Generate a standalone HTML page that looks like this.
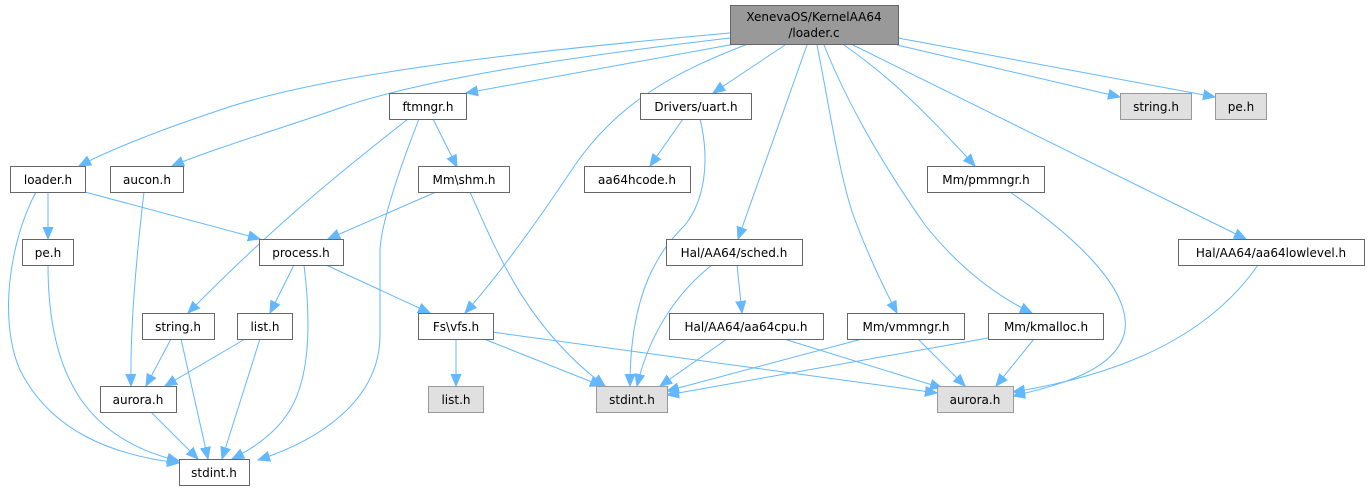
<!DOCTYPE html>
<html><head><meta charset="utf-8"><style>
html,body{margin:0;padding:0;background:#fff;}
svg{display:block;}
text{font-family:"DejaVu Sans","Liberation Sans",sans-serif;font-size:12px;fill:#000;}
.b{fill:#fff;stroke:#666;stroke-width:1;}
.g{fill:#e0e0e0;stroke:#999;stroke-width:1;}
.e{fill:none;stroke:#63b8ff;stroke-width:1;marker-end:url(#a);}
</style></head><body>
<svg width="1370" height="491" viewBox="0 0 1370 491" xmlns="http://www.w3.org/2000/svg">
<defs><marker id="a" markerUnits="userSpaceOnUse" markerWidth="13" markerHeight="12" refX="12" refY="6" orient="auto"><path d="M0,1 L12,6 L0,11 z" fill="#63b8ff" stroke="#63b8ff"/></marker></defs>

<path class="e" d="M730,33 C540,50 330,72 220,110 C160,130 110,150 79,166"/>
<path class="e" d="M730,38 C560,58 420,80 340,108 C270,132 210,150 172,166"/>
<path class="e" d="M735,44 L466,93"/>
<path class="e" d="M748,44 C680,70 620,100 575,165 C525,240 490,285 465,313"/>
<path class="e" d="M785,45 L713,93"/>
<path class="e" d="M807,45 L738,239"/>
<path class="e" d="M817,45 C830,110 840,180 855,220 C870,260 885,290 897,313"/>
<path class="e" d="M824,45 C850,110 890,175 925,225 C965,275 1005,300 1032,313"/>
<path class="e" d="M844,45 C880,70 915,100 975,166"/>
<path class="e" d="M853,45 L1246,239"/>
<path class="e" d="M897,45 L1120,97"/>
<path class="e" d="M898,38 L1215,97"/>

<path class="e" d="M433,119 L457,167"/>
<path class="e" d="M408,119 C330,180 270,230 188,313"/>
<path class="e" d="M419,119 C395,180 380,230 380,252 L380,335 C380,400 320,440 258,460"/>

<path class="e" d="M683,119 L650,166"/>
<path class="e" d="M700,119 C710,160 705,200 685,225 C660,250 630,290 630,386"/>

<path class="e" d="M48,192 L48,239"/>
<path class="e" d="M85,192 L260,239"/>
<path class="e" d="M36,192 C10,240 -2,320 20,370 C50,430 110,455 179,463"/>

<path class="e" d="M144,192 C136,260 130,330 131,386"/>

<path class="e" d="M436,192 L328,239"/>
<path class="e" d="M470,192 C500,260 530,330 605,386"/>

<path class="e" d="M48,265 C48,380 90,440 179,461"/>

<path class="e" d="M294,265 L270,313"/>
<path class="e" d="M326,265 L430,313"/>
<path class="e" d="M304,265 C312,330 308,380 290,410 C275,435 250,450 232,459"/>

<path class="e" d="M171,339 L146,386"/>
<path class="e" d="M181,339 L208,459"/>
<path class="e" d="M245,339 L165,386"/>
<path class="e" d="M260,339 L222,459"/>
<path class="e" d="M151,412 L198,459"/>

<path class="e" d="M456,339 L456,386"/>
<path class="e" d="M484,339 L602,386"/>
<path class="e" d="M492,332 L937,393"/>

<path class="e" d="M712,265 C680,290 650,330 637,386"/>
<path class="e" d="M737,265 L742,313"/>
<path class="e" d="M727,339 L660,386"/>
<path class="e" d="M784,339 L942,388"/>
<path class="e" d="M862,339 L667,391"/>
<path class="e" d="M918,339 L965,386"/>
<path class="e" d="M988,338 L667,395"/>
<path class="e" d="M1034,339 L996,386"/>
<path class="e" d="M1010,192 C1080,240 1130,290 1125,330 C1118,370 1060,385 1013,396"/>
<path class="e" d="M1258,265 C1220,320 1150,370 1013,392"/>

<rect x="730.5" y="5.5" width="168" height="39" fill="#999" stroke="#666"/>
<text x="814" y="21" text-anchor="middle">XenevaOS/KernelAA64</text>
<text x="814" y="37" text-anchor="middle">/loader.c</text>

<rect class="b" x="389.5" y="93.5" width="77" height="26"/><text x="428" y="111" text-anchor="middle">ftmngr.h</text>
<rect class="b" x="640.5" y="93.5" width="111" height="26"/><text x="696" y="111" text-anchor="middle">Drivers/uart.h</text>
<rect class="g" x="1120.5" y="93.5" width="71" height="26"/><text x="1156" y="111" text-anchor="middle">string.h</text>
<rect class="g" x="1215.5" y="93.5" width="51" height="26"/><text x="1241" y="111" text-anchor="middle">pe.h</text>

<rect class="b" x="10.5" y="166.5" width="75" height="26"/><text x="48" y="184" text-anchor="middle">loader.h</text>
<rect class="b" x="110.5" y="166.5" width="73" height="26"/><text x="147" y="184" text-anchor="middle">aucon.h</text>
<rect class="b" x="418.5" y="166.5" width="91" height="26"/><text x="464" y="184" text-anchor="middle">Mm\shm.h</text>
<rect class="b" x="584.5" y="166.5" width="106" height="26"/><text x="637" y="184" text-anchor="middle">aa64hcode.h</text>
<rect class="b" x="927.5" y="166.5" width="117" height="26"/><text x="986" y="184" text-anchor="middle">Mm/pmmngr.h</text>

<rect class="b" x="22.5" y="239.5" width="51" height="26"/><text x="48" y="257" text-anchor="middle">pe.h</text>
<rect class="b" x="259.5" y="239.5" width="84" height="26"/><text x="301" y="257" text-anchor="middle">process.h</text>
<rect class="b" x="666.5" y="239.5" width="136" height="26"/><text x="734" y="257" text-anchor="middle">Hal/AA64/sched.h</text>
<rect class="b" x="1178.5" y="239.5" width="186" height="26"/><text x="1271" y="257" text-anchor="middle">Hal/AA64/aa64lowlevel.h</text>

<rect class="b" x="142.5" y="313.5" width="72" height="26"/><text x="178" y="331" text-anchor="middle">string.h</text>
<rect class="b" x="237.5" y="313.5" width="55" height="26"/><text x="265" y="331" text-anchor="middle">list.h</text>
<rect class="b" x="418.5" y="313.5" width="75" height="26"/><text x="456" y="331" text-anchor="middle">Fs\vfs.h</text>
<rect class="b" x="669.5" y="313.5" width="154" height="26"/><text x="746" y="331" text-anchor="middle">Hal/AA64/aa64cpu.h</text>
<rect class="b" x="847.5" y="313.5" width="117" height="26"/><text x="906" y="331" text-anchor="middle">Mm/vmmngr.h</text>
<rect class="b" x="988.5" y="313.5" width="115" height="26"/><text x="1046" y="331" text-anchor="middle">Mm/kmalloc.h</text>

<rect class="b" x="100.5" y="386.5" width="76" height="26"/><text x="138" y="404" text-anchor="middle">aurora.h</text>
<rect class="g" x="428.5" y="386.5" width="55" height="26"/><text x="456" y="404" text-anchor="middle">list.h</text>
<rect class="g" x="596.5" y="386.5" width="71" height="26"/><text x="632" y="404" text-anchor="middle">stdint.h</text>
<rect class="g" x="937.5" y="386.5" width="76" height="26"/><text x="975" y="404" text-anchor="middle">aurora.h</text>

<rect class="b" x="179.5" y="459.5" width="70" height="26"/><text x="214" y="477" text-anchor="middle">stdint.h</text>
</svg>
</body></html>
